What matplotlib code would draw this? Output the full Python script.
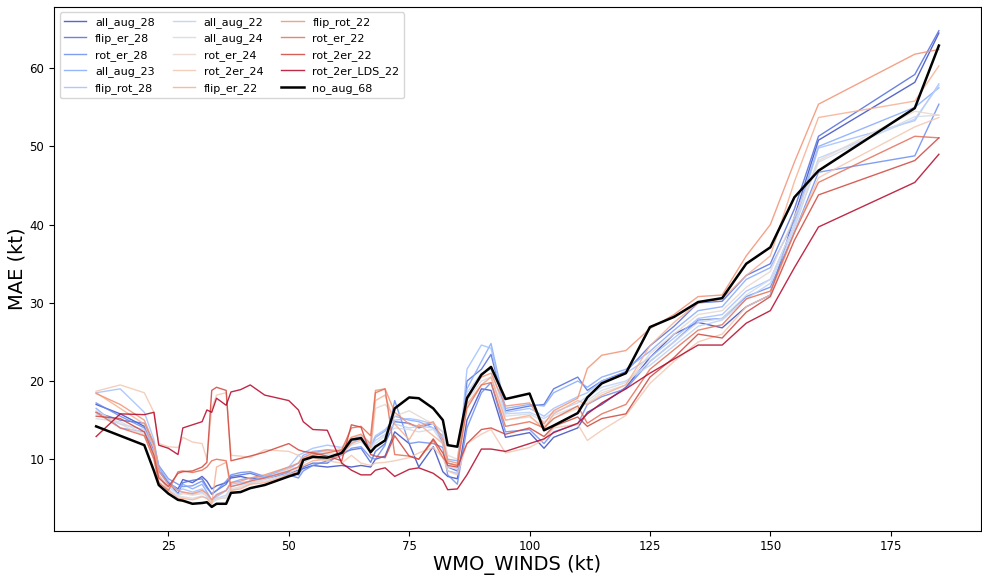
import numpy as np
import matplotlib
matplotlib.use("Agg")
import matplotlib.pyplot as plt

# wind speed bins (kt)
winds = [10, 15, 20, 22, 23, 25, 27, 28, 30, 32, 33, 34, 35, 37, 38, 40, 42, 45, 50, 52,
         53, 55, 58, 61, 63, 65, 67, 68, 70, 72, 75, 77, 80, 82, 83, 85, 87, 90, 92, 95,
         100, 103, 105, 110, 112, 115, 120, 125, 130, 135, 140, 145, 150, 155, 160, 180, 185]

all_aug_28 = [17.0, 15.8, 14.2, 11.0, 8.5, 7.0, 6.2, 7.4, 7.0, 7.8, 7.2, 6.2, 6.6, 7.0, 7.6, 7.8, 7.5, 7.5, 8.2, 8.6,
              8.8, 9.2, 9.0, 9.2, 9.0, 9.2, 9.0, 10.0, 10.4, 13.5, 12.0, 9.0, 11.6, 8.4, 7.8, 7.5, 15.0, 19.0, 18.8, 12.8,
              13.4, 11.4, 12.8, 14.0, 16.0, 17.0, 19.2, 23.0, 26.0, 27.5, 26.8, 29.5, 31.0, 41.0, 50.8, 58.2, 64.5]
flip_er_28 = [16.0, 15.0, 14.6, 12.0, 9.0, 7.0, 5.6, 7.0, 7.3, 7.5, 6.5, 5.5, 6.0, 6.8, 7.8, 8.0, 8.2, 7.6, 8.4, 8.0,
              9.0, 9.5, 9.5, 10.8, 11.2, 11.4, 9.6, 11.0, 12.0, 14.8, 14.6, 14.0, 14.6, 12.0, 9.0, 8.5, 20.0, 21.5, 23.4, 16.2,
              16.8, 17.0, 19.0, 20.5, 18.8, 20.0, 21.2, 24.5, 27.0, 30.0, 30.2, 33.5, 35.0, 42.0, 51.3, 59.2, 64.8]
rot_er_28 = [17.2, 15.5, 14.0, 11.8, 9.2, 7.5, 6.8, 6.5, 6.6, 7.2, 6.3, 5.6, 6.0, 7.2, 8.0, 8.3, 8.4, 7.8, 8.0, 7.6,
             8.5, 9.2, 9.8, 10.5, 11.4, 11.6, 10.2, 10.0, 11.8, 17.5, 12.0, 12.2, 12.0, 11.5, 8.0, 6.8, 14.0, 18.5, 19.8, 13.5,
             13.8, 12.0, 13.5, 14.5, 17.0, 18.0, 19.0, 22.5, 25.0, 27.8, 28.0, 30.8, 32.0, 39.0, 46.7, 48.8, 55.4]
all_aug_23 = [16.5, 14.0, 13.5, 11.0, 8.5, 6.8, 6.0, 6.8, 6.2, 6.8, 5.8, 4.8, 5.5, 6.0, 7.0, 7.4, 7.6, 7.8, 8.8, 9.5,
              10.5, 11.0, 11.2, 11.0, 12.0, 12.8, 11.5, 12.8, 13.6, 15.5, 15.0, 14.8, 14.0, 13.0, 10.0, 9.8, 19.0, 22.5, 24.8, 16.5,
              17.0, 16.8, 18.5, 20.0, 19.2, 20.5, 21.5, 23.8, 26.5, 29.0, 29.5, 33.0, 34.5, 40.5, 50.0, 55.0, 57.5]
flip_rot_28 = [18.5, 19.0, 16.0, 12.5, 9.0, 7.2, 6.0, 6.2, 5.8, 6.2, 5.6, 4.6, 5.2, 6.0, 6.8, 7.0, 7.2, 7.8, 9.0, 10.5,
               10.8, 11.4, 11.8, 11.5, 12.5, 13.0, 11.8, 13.0, 13.8, 15.0, 15.2, 15.0, 14.5, 13.5, 8.5, 8.2, 21.5, 24.6, 24.2, 16.0,
               16.5, 15.5, 16.5, 18.0, 18.5, 20.0, 21.0, 23.0, 25.5, 28.0, 28.5, 31.5, 33.0, 40.0, 49.8, 53.3, 58.0]
all_aug_22 = [15.8, 14.5, 13.8, 11.5, 8.0, 6.5, 5.5, 5.8, 5.5, 5.8, 5.2, 4.5, 5.0, 5.4, 6.5, 6.8, 7.0, 7.4, 8.5, 9.0,
              10.2, 10.8, 11.0, 11.2, 12.2, 12.4, 11.5, 12.4, 13.2, 14.5, 14.0, 14.2, 14.0, 12.5, 9.5, 9.2, 18.5, 21.0, 21.5, 15.8,
              16.0, 15.2, 16.0, 17.2, 18.0, 19.2, 20.0, 22.0, 24.5, 27.0, 27.8, 30.5, 32.5, 39.5, 48.5, 53.5, 57.8]
all_aug_24 = [15.2, 14.8, 13.2, 10.8, 7.8, 6.2, 5.2, 5.2, 5.0, 5.3, 5.0, 4.4, 4.8, 5.2, 6.2, 6.5, 7.0, 7.2, 8.2, 8.8,
              9.5, 10.2, 10.6, 10.8, 11.8, 12.2, 11.2, 12.0, 13.0, 14.0, 13.8, 13.5, 13.8, 12.0, 9.0, 8.8, 17.5, 20.0, 20.5, 15.5,
              15.8, 14.8, 15.6, 16.8, 17.5, 18.8, 19.8, 22.5, 25.0, 27.5, 28.0, 31.0, 33.0, 40.0, 48.0, 53.8, 54.0]
rot_er_24 = [16.2, 14.5, 13.0, 10.0, 7.2, 6.0, 5.3, 5.6, 5.4, 5.6, 5.4, 4.6, 5.0, 5.0, 6.0, 6.4, 6.8, 7.5, 8.8, 9.0,
             9.8, 10.6, 10.8, 11.5, 12.8, 13.0, 11.0, 16.5, 17.0, 15.5, 16.2, 15.5, 14.5, 13.5, 10.5, 10.0, 17.0, 19.5, 20.5, 15.0,
             15.4, 14.2, 15.2, 16.5, 17.2, 18.5, 19.5, 23.5, 26.0, 28.5, 29.0, 32.0, 34.0, 41.0, 48.2, 54.5, 54.0]
rot_2er_24 = [18.7, 19.5, 18.5, 16.0, 12.0, 11.6, 11.5, 12.8, 12.2, 12.0, 10.0, 16.5, 18.2, 18.5, 10.5, 10.4, 10.2, 11.2, 11.0, 10.5,
              10.0, 10.2, 9.8, 9.5, 10.5, 9.5, 9.2, 9.5, 9.6, 9.8, 10.2, 10.8, 11.5, 10.2, 8.5, 8.0, 12.0, 13.2, 13.8, 10.8,
              11.5, 12.5, 14.0, 14.5, 12.4, 13.7, 15.6, 19.7, 22.5, 25.0, 26.0, 29.5, 31.0, 39.0, 46.0, 52.5, 53.7]
flip_er_22 = [18.5, 16.5, 14.5, 11.5, 8.0, 6.0, 5.0, 5.0, 4.8, 5.2, 5.0, 4.2, 9.0, 9.6, 6.0, 6.2, 6.8, 7.0, 8.0, 8.5,
              9.2, 9.8, 10.0, 10.5, 12.0, 12.5, 11.5, 17.5, 18.2, 14.5, 12.5, 14.5, 13.0, 12.0, 9.5, 9.2, 17.0, 19.5, 20.5, 15.0,
              15.6, 13.8, 15.8, 17.5, 17.0, 18.2, 19.5, 24.5, 27.5, 30.0, 30.5, 33.5, 36.0, 45.5, 53.7, 55.8, 60.3]
flip_rot_22 = [18.4, 17.0, 15.0, 12.0, 8.5, 6.8, 6.0, 5.8, 5.6, 6.0, 5.6, 4.8, 5.4, 6.0, 7.0, 7.2, 7.6, 8.0, 9.0, 9.5,
               10.2, 10.8, 11.2, 11.0, 12.8, 13.2, 12.0, 18.8, 19.0, 16.0, 14.5, 14.2, 14.8, 12.5, 9.8, 9.5, 18.0, 20.5, 21.0, 16.8,
               17.2, 14.5, 16.2, 17.8, 21.6, 23.3, 23.9, 26.7, 28.5, 30.8, 31.0, 36.0, 40.0, 48.0, 55.4, 61.8, 62.4]
rot_er_22 = [16.0, 14.0, 13.0, 10.0, 7.0, 6.0, 8.4, 8.5, 8.3, 8.6, 9.0, 9.8, 10.0, 9.8, 6.5, 6.8, 7.2, 7.6, 8.5, 9.0,
             10.0, 10.5, 10.8, 11.2, 14.0, 14.2, 13.0, 18.5, 19.0, 10.6, 10.4, 10.0, 12.4, 10.2, 9.5, 9.2, 16.5, 19.5, 19.8, 14.2,
             14.8, 14.0, 15.2, 16.8, 14.6, 15.8, 17.0, 21.5, 24.0, 26.5, 27.2, 30.5, 31.5, 39.0, 45.4, 51.3, 51.1]
rot_2er_22 = [15.5, 15.2, 13.5, 10.5, 7.6, 6.5, 8.2, 8.4, 8.5, 9.0, 9.6, 18.8, 19.2, 18.8, 9.8, 10.1, 10.4, 10.9, 12.0, 11.2,
              11.0, 10.8, 10.4, 9.8, 14.4, 14.1, 10.6, 10.4, 10.2, 13.0, 10.4, 10.0, 12.6, 10.8, 9.2, 9.0, 12.0, 13.8, 14.0, 13.2,
              14.0, 12.9, 14.2, 15.4, 14.2, 15.2, 15.8, 20.5, 23.0, 26.0, 25.5, 28.8, 30.8, 38.0, 43.8, 48.2, 51.1]
rot_2er_LDS_22 = [12.9, 15.8, 15.7, 16.0, 11.8, 11.4, 10.6, 14.0, 14.4, 14.8, 16.3, 16.0, 17.8, 16.9, 18.6, 18.9, 19.5, 18.2, 17.5, 16.3,
                  14.8, 13.8, 13.7, 9.5, 8.6, 8.0, 8.0, 8.6, 8.9, 7.8, 8.7, 8.9, 8.2, 7.3, 6.1, 6.2, 8.0, 11.3, 11.3, 11.0,
                  12.0, 12.6, 13.4, 14.6, 15.8, 17.2, 19.0, 21.0, 22.8, 24.6, 24.6, 27.4, 29.0, 34.5, 39.7, 45.4, 49.0]
no_aug_68 = [14.2, 13.0, 11.8, 8.5, 6.7, 5.6, 4.8, 4.7, 4.3, 4.4, 4.5, 3.9, 4.3, 4.3, 5.7, 5.8, 6.3, 6.7, 7.8, 8.2,
             9.9, 10.3, 10.2, 10.8, 12.5, 12.7, 10.9, 11.6, 12.4, 16.5, 17.9, 17.8, 16.5, 15.0, 11.8, 11.6, 17.8, 20.8, 21.8, 17.7,
             18.4, 13.7, 14.3, 15.9, 17.9, 19.7, 21.0, 26.9, 28.2, 30.1, 30.6, 35.0, 37.1, 43.5, 46.9, 54.9, 62.9]

models = {
    "all_aug_28": all_aug_28, "flip_er_28": flip_er_28, "rot_er_28": rot_er_28,
    "all_aug_23": all_aug_23, "flip_rot_28": flip_rot_28, "all_aug_22": all_aug_22,
    "all_aug_24": all_aug_24, "rot_er_24": rot_er_24, "rot_2er_24": rot_2er_24,
    "flip_er_22": flip_er_22, "flip_rot_22": flip_rot_22, "rot_er_22": rot_er_22,
    "rot_2er_22": rot_2er_22, "rot_2er_LDS_22": rot_2er_LDS_22,
}

colors = plt.cm.coolwarm(np.linspace(0, 1, len(models)))

fig = plt.figure(figsize=(9.82, 5.75), dpi=100)
ax = fig.add_axes([0.055, 0.077, 0.944, 0.911])

for (name, vals), c in zip(models.items(), colors):
    ax.plot(winds, vals, color=c, lw=1.0, alpha=0.85, label=name)
ax.plot(winds, no_aug_68, color="black", lw=1.8, label="no_aug_68")

ax.set_xlabel("WMO_WINDS (kt)", fontsize=14, labelpad=1)
ax.set_ylabel("MAE (kt)", fontsize=14, labelpad=2)
ax.tick_params(labelsize=8.5)
ax.legend(loc="upper left", ncol=3, fontsize=8, columnspacing=1.6)

fig.savefig("out.png")
